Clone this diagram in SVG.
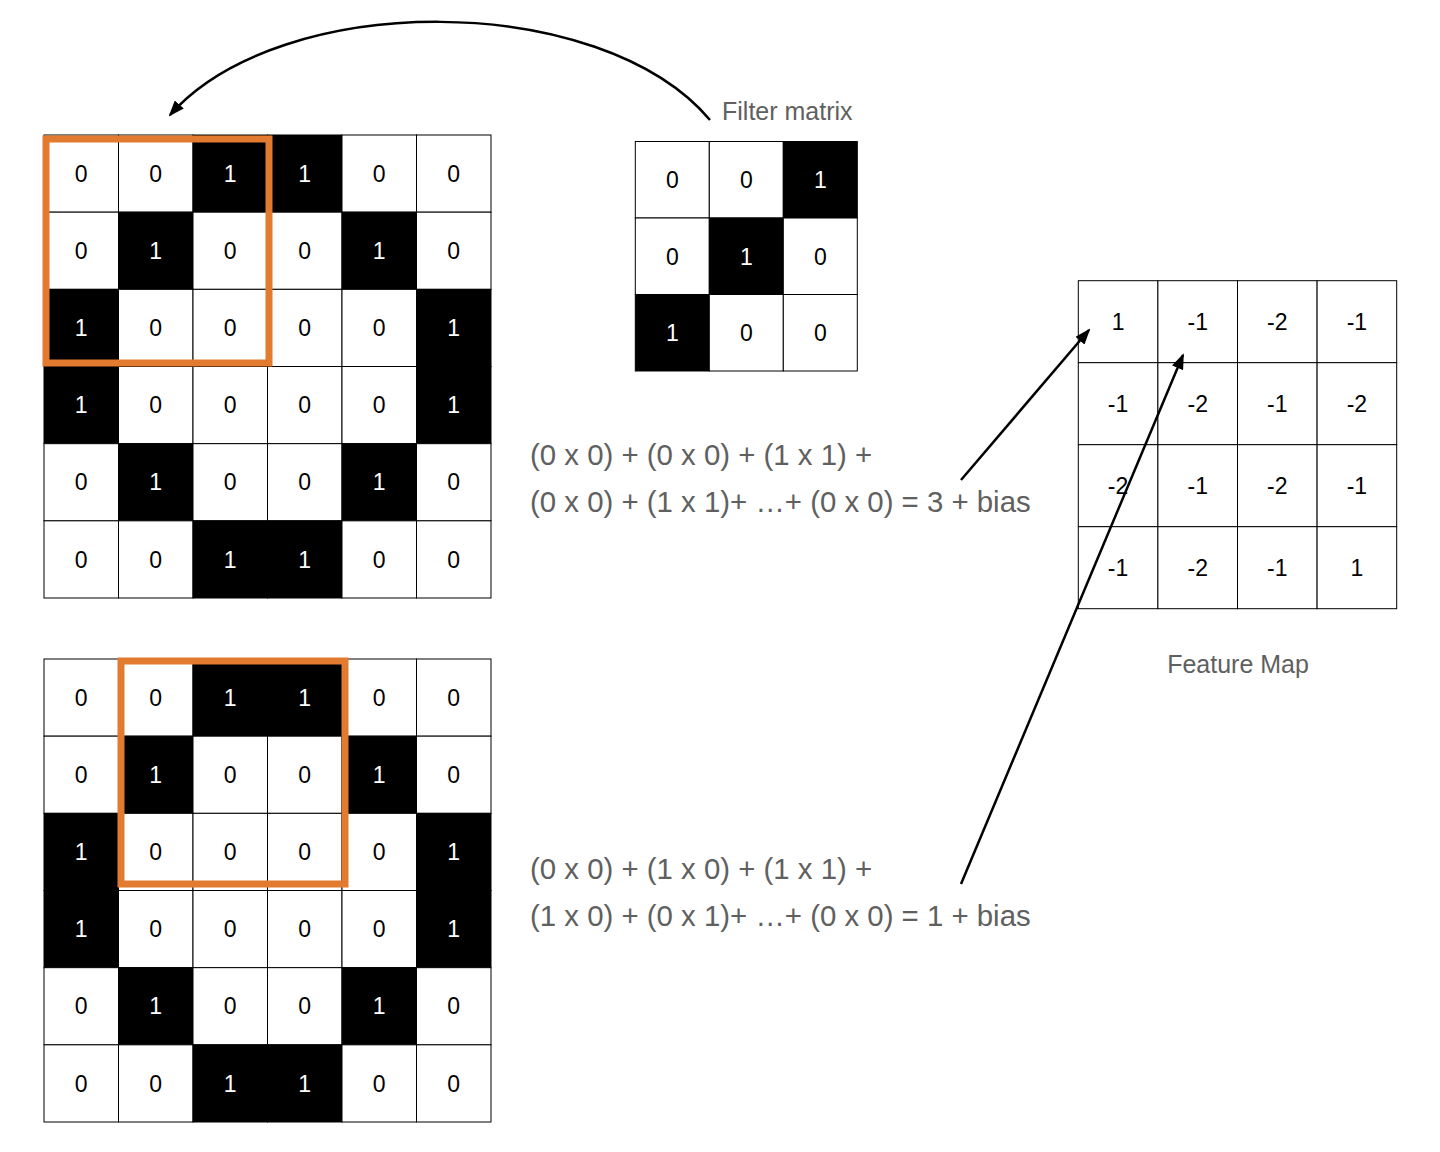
<svg xmlns="http://www.w3.org/2000/svg" width="1440" height="1152" viewBox="0 0 1440 1152">
<style>
text{font-family:"Liberation Sans",Arial,Helvetica,sans-serif}
.w{fill:#fff;stroke:#000;stroke-width:1}
.b{fill:#000;stroke:#000;stroke-width:1}
.n{font-size:23px;text-anchor:middle;fill:#000}
.nb{font-size:23px;text-anchor:middle;fill:#fff}
.lbl{font-size:25px;fill:#606060}
.eq{font-size:29.4px;fill:#606060}
.win{fill:none;stroke:#E27A2F;stroke-width:7}
.conn{fill:none;stroke:#000;stroke-width:2.5}
</style>
<defs>
<marker id="ah" viewBox="0 0 16 12" refX="14" refY="6" markerWidth="16" markerHeight="12" orient="auto" markerUnits="userSpaceOnUse"><path d="M0,0 L16,6 L0,12 z" fill="#000"/></marker>
<g id="grid6">
<rect class="w" x="0" y="0" width="74.5" height="77.17"/><rect class="w" x="74.5" y="0" width="74.5" height="77.17"/><rect class="b" x="149" y="0" width="74.5" height="77.17"/><rect class="b" x="223.5" y="0" width="74.5" height="77.17"/><rect class="w" x="298" y="0" width="74.5" height="77.17"/><rect class="w" x="372.5" y="0" width="74.5" height="77.17"/>
<rect class="w" x="0" y="77.17" width="74.5" height="77.17"/><rect class="b" x="74.5" y="77.17" width="74.5" height="77.17"/><rect class="w" x="149" y="77.17" width="74.5" height="77.17"/><rect class="w" x="223.5" y="77.17" width="74.5" height="77.17"/><rect class="b" x="298" y="77.17" width="74.5" height="77.17"/><rect class="w" x="372.5" y="77.17" width="74.5" height="77.17"/>
<rect class="b" x="0" y="154.33" width="74.5" height="77.17"/><rect class="w" x="74.5" y="154.33" width="74.5" height="77.17"/><rect class="w" x="149" y="154.33" width="74.5" height="77.17"/><rect class="w" x="223.5" y="154.33" width="74.5" height="77.17"/><rect class="w" x="298" y="154.33" width="74.5" height="77.17"/><rect class="b" x="372.5" y="154.33" width="74.5" height="77.17"/>
<rect class="b" x="0" y="231.5" width="74.5" height="77.17"/><rect class="w" x="74.5" y="231.5" width="74.5" height="77.17"/><rect class="w" x="149" y="231.5" width="74.5" height="77.17"/><rect class="w" x="223.5" y="231.5" width="74.5" height="77.17"/><rect class="w" x="298" y="231.5" width="74.5" height="77.17"/><rect class="b" x="372.5" y="231.5" width="74.5" height="77.17"/>
<rect class="w" x="0" y="308.67" width="74.5" height="77.17"/><rect class="b" x="74.5" y="308.67" width="74.5" height="77.17"/><rect class="w" x="149" y="308.67" width="74.5" height="77.17"/><rect class="w" x="223.5" y="308.67" width="74.5" height="77.17"/><rect class="b" x="298" y="308.67" width="74.5" height="77.17"/><rect class="w" x="372.5" y="308.67" width="74.5" height="77.17"/>
<rect class="w" x="0" y="385.83" width="74.5" height="77.17"/><rect class="w" x="74.5" y="385.83" width="74.5" height="77.17"/><rect class="b" x="149" y="385.83" width="74.5" height="77.17"/><rect class="b" x="223.5" y="385.83" width="74.5" height="77.17"/><rect class="w" x="298" y="385.83" width="74.5" height="77.17"/><rect class="w" x="372.5" y="385.83" width="74.5" height="77.17"/>
<text class="n" x="37.25" y="46.8">0</text><text class="n" x="111.75" y="46.8">0</text><text class="nb" x="186.25" y="46.8">1</text><text class="nb" x="260.75" y="46.8">1</text><text class="n" x="335.25" y="46.8">0</text><text class="n" x="409.75" y="46.8">0</text>
<text class="n" x="37.25" y="123.9">0</text><text class="nb" x="111.75" y="123.9">1</text><text class="n" x="186.25" y="123.9">0</text><text class="n" x="260.75" y="123.9">0</text><text class="nb" x="335.25" y="123.9">1</text><text class="n" x="409.75" y="123.9">0</text>
<text class="nb" x="37.25" y="201.1">1</text><text class="n" x="111.75" y="201.1">0</text><text class="n" x="186.25" y="201.1">0</text><text class="n" x="260.75" y="201.1">0</text><text class="n" x="335.25" y="201.1">0</text><text class="nb" x="409.75" y="201.1">1</text>
<text class="nb" x="37.25" y="278.3">1</text><text class="n" x="111.75" y="278.3">0</text><text class="n" x="186.25" y="278.3">0</text><text class="n" x="260.75" y="278.3">0</text><text class="n" x="335.25" y="278.3">0</text><text class="nb" x="409.75" y="278.3">1</text>
<text class="n" x="37.25" y="355.4">0</text><text class="nb" x="111.75" y="355.4">1</text><text class="n" x="186.25" y="355.4">0</text><text class="n" x="260.75" y="355.4">0</text><text class="nb" x="335.25" y="355.4">1</text><text class="n" x="409.75" y="355.4">0</text>
<text class="n" x="37.25" y="432.6">0</text><text class="n" x="111.75" y="432.6">0</text><text class="nb" x="186.25" y="432.6">1</text><text class="nb" x="260.75" y="432.6">1</text><text class="n" x="335.25" y="432.6">0</text><text class="n" x="409.75" y="432.6">0</text>
</g>
</defs>

<g id="input-top">
<use href="#grid6" transform="translate(44,135)"/>
<rect class="win" x="46" y="139" width="223" height="224"/>
</g>

<g id="input-bottom">
<use href="#grid6" transform="translate(44,659)"/>
<rect class="win" x="121" y="661" width="224" height="223"/>
</g>

<g id="filter" transform="translate(635.3,141.5)">
<rect class="w" x="0" y="0" width="74" height="76.5"/><rect class="w" x="74" y="0" width="74" height="76.5"/><rect class="b" x="148" y="0" width="74" height="76.5"/>
<rect class="w" x="0" y="76.5" width="74" height="76.5"/><rect class="b" x="74" y="76.5" width="74" height="76.5"/><rect class="w" x="148" y="76.5" width="74" height="76.5"/>
<rect class="b" x="0" y="153" width="74" height="76.5"/><rect class="w" x="74" y="153" width="74" height="76.5"/><rect class="w" x="148" y="153" width="74" height="76.5"/>
<text class="n" x="37" y="46.5">0</text><text class="n" x="111" y="46.5">0</text><text class="nb" x="185" y="46.5">1</text>
<text class="n" x="37" y="123">0</text><text class="nb" x="111" y="123">1</text><text class="n" x="185" y="123">0</text>
<text class="nb" x="37" y="199.5">1</text><text class="n" x="111" y="199.5">0</text><text class="n" x="185" y="199.5">0</text>
</g>
<g id="filter-label"><text class="lbl" x="722" y="120">Filter matrix</text></g>

<g id="feature-map" transform="translate(1078.3,280.7)">
<rect class="w" x="0" y="0" width="79.6" height="82"/><rect class="w" x="79.6" y="0" width="79.6" height="82"/><rect class="w" x="159.2" y="0" width="79.6" height="82"/><rect class="w" x="238.8" y="0" width="79.6" height="82"/>
<rect class="w" x="0" y="82" width="79.6" height="82"/><rect class="w" x="79.6" y="82" width="79.6" height="82"/><rect class="w" x="159.2" y="82" width="79.6" height="82"/><rect class="w" x="238.8" y="82" width="79.6" height="82"/>
<rect class="w" x="0" y="164" width="79.6" height="82"/><rect class="w" x="79.6" y="164" width="79.6" height="82"/><rect class="w" x="159.2" y="164" width="79.6" height="82"/><rect class="w" x="238.8" y="164" width="79.6" height="82"/>
<rect class="w" x="0" y="246" width="79.6" height="82"/><rect class="w" x="79.6" y="246" width="79.6" height="82"/><rect class="w" x="159.2" y="246" width="79.6" height="82"/><rect class="w" x="238.8" y="246" width="79.6" height="82"/>
<text class="n" x="39.8" y="49.2">1</text><text class="n" x="119.4" y="49.2">-1</text><text class="n" x="199" y="49.2">-2</text><text class="n" x="278.6" y="49.2">-1</text>
<text class="n" x="39.8" y="131.2">-1</text><text class="n" x="119.4" y="131.2">-2</text><text class="n" x="199" y="131.2">-1</text><text class="n" x="278.6" y="131.2">-2</text>
<text class="n" x="39.8" y="213.2">-2</text><text class="n" x="119.4" y="213.2">-1</text><text class="n" x="199" y="213.2">-2</text><text class="n" x="278.6" y="213.2">-1</text>
<text class="n" x="39.8" y="295.2">-1</text><text class="n" x="119.4" y="295.2">-2</text><text class="n" x="199" y="295.2">-1</text><text class="n" x="278.6" y="295.2">1</text>
</g>
<g id="feature-label"><text class="lbl" x="1238" y="673" text-anchor="middle">Feature Map</text></g>

<g id="formula-top">
<text class="eq" x="530" y="465">(0 x 0) + (0 x 0) + (1 x 1) +</text>
<text class="eq" x="530" y="512">(0 x 0) + (1 x 1)+ …+ (0 x 0) = 3 + bias</text>
</g>
<g id="formula-bottom">
<text class="eq" x="530" y="879">(0 x 0) + (1 x 0) + (1 x 1) +</text>
<text class="eq" x="530" y="926">(1 x 0) + (0 x 1)+ …+ (0 x 0) = 1 + bias</text>
</g>

<g id="connectors">
<path class="conn" d="M710,120 C600,-10 280,-10 170,115" marker-end="url(#ah)"/>
<path class="conn" d="M961,480 L1089,330" marker-end="url(#ah)"/>
<path class="conn" d="M961,884 L1183,355" marker-end="url(#ah)"/>
</g>
</svg>
